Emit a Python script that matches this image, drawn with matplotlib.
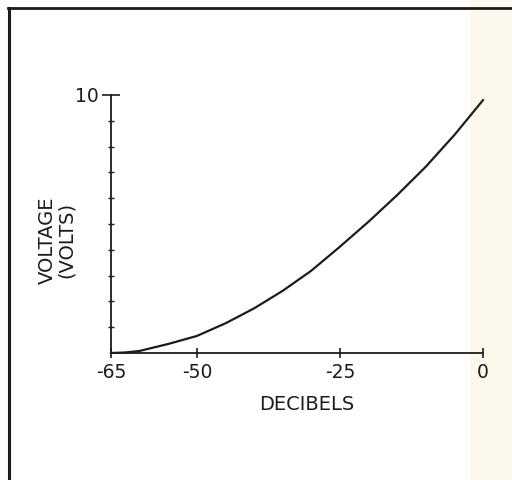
import numpy as np
import matplotlib.pyplot as plt
from matplotlib.patches import Rectangle
from matplotlib.lines import Line2D

# values
decibels = [-65, -62.5, -60, -55, -50, -45, -40, -35, -30, -25, -20, -15, -10, -5, 0]
volts = [0.0, 0.02, 0.08, 0.35, 0.66, 1.15, 1.73, 2.41, 3.19, 4.12, 5.09, 6.12, 7.22, 8.45, 9.8]

x_ticks = [-65, -50, -25, 0]
x_labels = ['-65', '-50', '-25', '0']

ink = '#1c1c1c'

fig = plt.figure(figsize=(5.12, 4.8), dpi=100)
fig.patch.set_facecolor('white')

# the cream strip on the right side of the scan
fig.patches.append(Rectangle((470 / 512, 0), 42 / 512, 1, transform=fig.transFigure,
                             facecolor='#fcf8ee', edgecolor='none', zorder=0))
# frame lines of the page
fig.lines.append(Line2D([9 / 512, 9 / 512], [0, 1 - 8 / 480], transform=fig.transFigure,
                        color=ink, lw=2.2))
fig.lines.append(Line2D([8 / 512, 1], [1 - 8 / 480, 1 - 8 / 480], transform=fig.transFigure,
                        color=ink, lw=2.0))

ax = fig.add_axes([111 / 512, 1 - 353 / 480, (483 - 111) / 512, (353 - 95) / 480])
ax.patch.set_alpha(0)
ax.set_zorder(5)

ax.plot(decibels, volts, color=ink, lw=1.6, clip_on=False)

ax.set_xlim(-65, 0)
ax.set_ylim(0, 10)

for s in ['top', 'right']:
    ax.spines[s].set_visible(False)
for s in ['left', 'bottom']:
    ax.spines[s].set_linewidth(1.3)
    ax.spines[s].set_color(ink)

ax.set_xticks(x_ticks)
ax.set_xticklabels(x_labels)
ax.set_yticks([10])
ax.set_yticklabels(['10'])
ax.set_yticks(np.arange(1, 10), minor=True)

ax.tick_params(axis='x', direction='inout', length=7, width=1.2, color=ink,
               labelsize=13.5, pad=4, labelcolor=ink)
ax.tick_params(axis='y', which='major', direction='inout', length=13, width=1.2,
               color=ink, labelsize=13.5, pad=2, labelcolor=ink)
ax.tick_params(axis='y', which='minor', direction='inout', length=4.5, width=1.0, color=ink)

fig.text(57 / 512, 1 - 240 / 480, 'VOLTAGE\n(VOLTS)', rotation=90, ha='center', va='center',
         multialignment='center', fontsize=14, color=ink, linespacing=1.05)
fig.text(307 / 512, 1 - 405 / 480, 'DECIBELS', ha='center', va='center',
         fontsize=14, color=ink)

fig.savefig('out.png', dpi=100)
